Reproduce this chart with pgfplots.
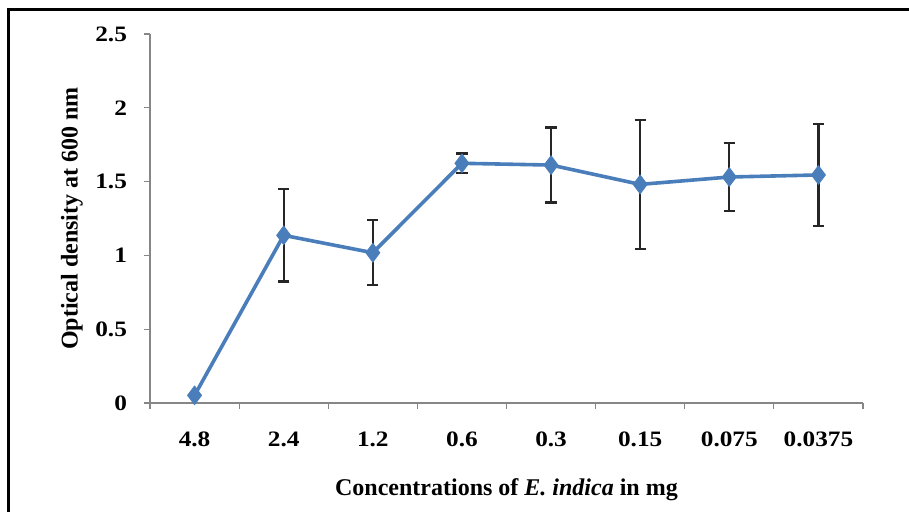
\documentclass[border=0pt]{standalone}
\usepackage{pgfplots}
\pgfplotsset{compat=1.18}
\usepackage{fontspec}
\setmainfont{Liberation Serif}
\newfontfamily\wide{Liberation Serif}[FakeStretch=1.15]
\definecolor{serblue}{HTML}{4A7EBB}
\definecolor{axgray}{HTML}{868686}
\begin{document}
\begin{tikzpicture}
\useasboundingbox (0,0) rectangle (454.5pt,256pt);
\draw[line width=1.5pt,black] (4pt,0) -- (4pt,251pt) -- (454.5pt,251pt);
\begin{axis}[
  at={(75pt,54.5pt)}, anchor=south west,
  scale only axis,
  width=356.5pt, height=184.5pt,
  xmin=-0.5, xmax=7.5,
  ymin=0, ymax=2.5,
  axis x line*=bottom, axis y line*=left,
  axis line style={axgray, line width=0.6pt, -},
  xtick={-0.5,0.5,...,7.5},
  x tick label as interval,
  xticklabels={4.8,2.4,1.2,0.6,0.3,0.15,0.075,0.0375},
  ytick={0,0.5,1,1.5,2,2.5},
  yticklabels={0,0.5,1,1.5,2,2.5},
  tick align=outside,
  major tick length=3pt,
  tick style={axgray, line width=0.6pt},
  xticklabel style={font=\wide\fontsize{11}{13}\selectfont\bfseries, yshift=-8pt},
  yticklabel style={font=\wide\fontsize{11}{13}\selectfont\bfseries, xshift=-5pt},
  xlabel={Concentrations of \textit{E. indica} in mg},
  ylabel={Optical density at 600 nm},
  xlabel style={font=\fontsize{12}{14}\selectfont\bfseries, at={(axis description cs:0.5,0)}, anchor=center, yshift=-43.5pt},
  ylabel style={font=\fontsize{12}{14}\selectfont\bfseries, at={(axis description cs:0,0.5)}, anchor=center, yshift=39pt},
  clip=false,
]
\addplot[serblue, line width=1.8pt, mark=diamond*, mark size=4.6pt,
  mark options={fill=serblue, draw=serblue, line width=0.5pt},
  error bars/.cd, y dir=both, y explicit,
  error bar style={black!85, line width=1.1pt},
  error mark options={black!85, line width=1.1pt, mark size=2.8pt, rotate=90}]
  coordinates {
  (0,0.052) +- (0,0)
  (1,1.136) +- (0,0.313)
  (2,1.018) +- (0,0.220)
  (3,1.624) +- (0,0.066)
  (4,1.612) +- (0,0.254)
  (5,1.481) +- (0,0.437)
  (6,1.531) +- (0,0.231)
  (7,1.545) +- (0,0.344)
  };
\end{axis}
\end{tikzpicture}
\end{document}
